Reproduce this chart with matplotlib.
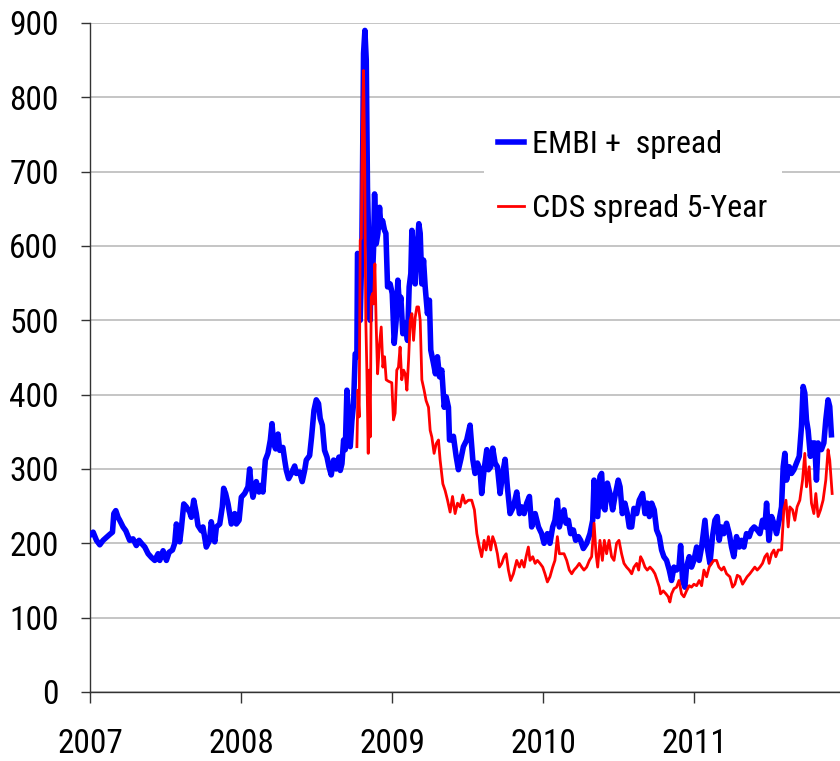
import matplotlib
matplotlib.use("Agg")

import matplotlib.pyplot as plt
from matplotlib import font_manager

# EMBI+ spread (decimal year, basis points)
embi_dates = [
    2007.000, 2007.021, 2007.043, 2007.065, 2007.087, 2007.109, 2007.131, 2007.149, 2007.158, 2007.171,
    2007.186, 2007.197, 2007.219, 2007.237, 2007.263, 2007.285, 2007.307, 2007.325, 2007.341, 2007.363,
    2007.385, 2007.407, 2007.429, 2007.451, 2007.462, 2007.484, 2007.506, 2007.524, 2007.546, 2007.561,
    2007.572, 2007.594, 2007.605, 2007.621, 2007.638, 2007.660, 2007.671, 2007.687, 2007.704, 2007.715,
    2007.737, 2007.748, 2007.770, 2007.792, 2007.803, 2007.826, 2007.837, 2007.859, 2007.876, 2007.885,
    2007.898, 2007.914, 2007.936, 2007.958, 2007.969, 2007.987, 2008.002, 2008.024, 2008.046, 2008.057,
    2008.068, 2008.079, 2008.101, 2008.119, 2008.134, 2008.145, 2008.161, 2008.178, 2008.194, 2008.205,
    2008.216, 2008.229, 2008.245, 2008.256, 2008.277, 2008.289, 2008.300, 2008.315, 2008.333, 2008.355,
    2008.366, 2008.388, 2008.405, 2008.421, 2008.432, 2008.454, 2008.467, 2008.483, 2008.498, 2008.513,
    2008.524, 2008.538, 2008.553, 2008.569, 2008.582, 2008.597, 2008.613, 2008.630, 2008.648, 2008.657,
    2008.668, 2008.679, 2008.690, 2008.701, 2008.712, 2008.723, 2008.734, 2008.745, 2008.756, 2008.767,
    2008.771, 2008.778, 2008.789, 2008.800, 2008.811, 2008.820, 2008.829, 2008.837, 2008.846, 2008.855,
    2008.862, 2008.871, 2008.877, 2008.884, 2008.895, 2008.906, 2008.917, 2008.926, 2008.937, 2008.950,
    2008.959, 2008.970, 2008.987, 2009.001, 2009.014, 2009.027, 2009.038, 2009.049, 2009.058, 2009.071,
    2009.087, 2009.102, 2009.113, 2009.124, 2009.131, 2009.142, 2009.153, 2009.164, 2009.177, 2009.186,
    2009.197, 2009.208, 2009.219, 2009.234, 2009.247, 2009.256, 2009.274, 2009.287, 2009.300, 2009.314,
    2009.329, 2009.345, 2009.358, 2009.373, 2009.380, 2009.395, 2009.406, 2009.424, 2009.439, 2009.455,
    2009.472, 2009.494, 2009.516, 2009.534, 2009.549, 2009.565, 2009.582, 2009.593, 2009.609, 2009.627,
    2009.638, 2009.653, 2009.666, 2009.682, 2009.697, 2009.715, 2009.732, 2009.748, 2009.763, 2009.781,
    2009.803, 2009.825, 2009.843, 2009.858, 2009.874, 2009.891, 2009.909, 2009.924, 2009.947, 2009.969,
    2009.990, 2010.006, 2010.028, 2010.045, 2010.063, 2010.078, 2010.094, 2010.107, 2010.123, 2010.138,
    2010.151, 2010.167, 2010.182, 2010.200, 2010.215, 2010.233, 2010.248, 2010.266, 2010.288, 2010.310,
    2010.328, 2010.337, 2010.350, 2010.361, 2010.376, 2010.387, 2010.398, 2010.409, 2010.425, 2010.442,
    2010.460, 2010.475, 2010.497, 2010.509, 2010.524, 2010.541, 2010.557, 2010.570, 2010.586, 2010.601,
    2010.619, 2010.636, 2010.658, 2010.674, 2010.689, 2010.703, 2010.718, 2010.735, 2010.751, 2010.769,
    2010.784, 2010.799, 2010.817, 2010.835, 2010.850, 2010.866, 2010.883, 2010.899, 2010.910, 2010.923,
    2010.938, 2010.949, 2010.967, 2010.982, 2010.998, 2011.016, 2011.033, 2011.049, 2011.071, 2011.086,
    2011.104, 2011.121, 2011.137, 2011.152, 2011.165, 2011.181, 2011.196, 2011.214, 2011.232, 2011.247,
    2011.262, 2011.280, 2011.298, 2011.313, 2011.329, 2011.346, 2011.364, 2011.379, 2011.397, 2011.417,
    2011.435, 2011.452, 2011.468, 2011.479, 2011.494, 2011.512, 2011.527, 2011.545, 2011.562, 2011.578,
    2011.589, 2011.600, 2011.611, 2011.629, 2011.644, 2011.660, 2011.677, 2011.695, 2011.710, 2011.721,
    2011.732, 2011.743, 2011.754, 2011.769, 2011.783, 2011.798, 2011.809, 2011.820, 2011.842, 2011.858,
    2011.871, 2011.886, 2011.897, 2011.908,
]
embi_values = [
    211, 215, 204, 198, 204, 208, 212, 215, 240, 244,
    235, 231, 222, 217, 204, 206, 197, 204, 200, 195,
    186, 181, 177, 186, 177, 190, 177, 188, 191, 200,
    226, 202, 220, 253, 249, 242, 235, 258, 240, 224,
    217, 222, 195, 204, 229, 202, 222, 226, 249, 274,
    267, 253, 226, 240, 226, 231, 262, 267, 276, 300,
    276, 262, 283, 269, 278, 269, 312, 321, 339, 361,
    334, 327, 347, 325, 329, 312, 298, 287, 294, 304,
    294, 296, 283, 298, 312, 318, 343, 379, 393, 388,
    368, 359, 325, 316, 303, 292, 312, 300, 316, 298,
    307, 339, 326, 406, 370, 330, 365, 388, 455, 451,
    590, 587, 500, 599, 859, 890, 850, 679, 599, 500,
    594, 563, 594, 670, 603, 617, 652, 626, 634, 621,
    617, 545, 549, 536, 469, 500, 554, 518, 531, 482,
    496, 473, 545, 563, 621, 590, 549, 590, 630, 617,
    549, 581, 545, 509, 527, 460, 442, 428, 451, 424,
    433, 383, 397, 383, 339, 339, 344, 317, 299, 313,
    330, 339, 359, 313, 294, 308, 299, 267, 299, 326,
    299, 303, 328, 308, 303, 267, 294, 313, 276, 240,
    249, 269, 240, 249, 240, 254, 263, 222, 240, 222,
    213, 200, 213, 200, 222, 231, 258, 222, 236, 245,
    227, 231, 213, 218, 204, 209, 204, 193, 200, 213,
    231, 285, 258, 236, 290, 294, 249, 245, 281, 267,
    245, 263, 285, 276, 240, 254, 240, 222, 222, 247,
    240, 258, 267, 240, 254, 236, 254, 245, 218, 209,
    191, 182, 177, 164, 150, 168, 164, 168, 197, 150,
    141, 168, 182, 168, 177, 195, 177, 195, 231, 195,
    173, 209, 231, 236, 204, 222, 213, 227, 213, 195,
    182, 209, 195, 204, 195, 213, 209, 218, 222, 218,
    213, 231, 222, 254, 204, 236, 227, 213, 231, 249,
    303, 321, 285, 303, 294, 299, 308, 317, 357, 411,
    402, 366, 352, 317, 335, 335, 285, 335, 326, 335,
    366, 393, 384, 346,
]

# CDS spread 5-Year (decimal year, basis points)
cds_dates = [
    2008.767, 2008.774, 2008.782, 2008.789, 2008.796, 2008.804, 2008.811, 2008.818, 2008.826, 2008.833,
    2008.842, 2008.848, 2008.855, 2008.862, 2008.871, 2008.877, 2008.886, 2008.895, 2008.904, 2008.915,
    2008.928, 2008.939, 2008.950, 2008.961, 2008.976, 2008.998, 2009.009, 2009.020, 2009.031, 2009.042,
    2009.053, 2009.064, 2009.076, 2009.087, 2009.098, 2009.109, 2009.120, 2009.131, 2009.142, 2009.153,
    2009.164, 2009.175, 2009.186, 2009.197, 2009.212, 2009.225, 2009.241, 2009.252, 2009.263, 2009.278,
    2009.292, 2009.307, 2009.318, 2009.336, 2009.351, 2009.367, 2009.384, 2009.400, 2009.417, 2009.433,
    2009.450, 2009.468, 2009.483, 2009.505, 2009.527, 2009.545, 2009.561, 2009.578, 2009.593, 2009.609,
    2009.622, 2009.638, 2009.653, 2009.666, 2009.682, 2009.697, 2009.710, 2009.726, 2009.741, 2009.755,
    2009.770, 2009.785, 2009.803, 2009.825, 2009.843, 2009.858, 2009.874, 2009.887, 2009.902, 2009.913,
    2009.931, 2009.947, 2009.962, 2009.979, 2009.997, 2010.012, 2010.028, 2010.045, 2010.063, 2010.078,
    2010.094, 2010.107, 2010.123, 2010.138, 2010.156, 2010.173, 2010.189, 2010.204, 2010.222, 2010.239,
    2010.255, 2010.270, 2010.288, 2010.306, 2010.321, 2010.337, 2010.350, 2010.361, 2010.376, 2010.392,
    2010.405, 2010.420, 2010.436, 2010.453, 2010.469, 2010.486, 2010.502, 2010.519, 2010.535, 2010.552,
    2010.570, 2010.586, 2010.601, 2010.619, 2010.632, 2010.645, 2010.658, 2010.674, 2010.689, 2010.707,
    2010.725, 2010.740, 2010.755, 2010.769, 2010.777, 2010.795, 2010.813, 2010.828, 2010.839, 2010.850,
    2010.866, 2010.883, 2010.899, 2010.916, 2010.932, 2010.949, 2010.967, 2010.982, 2010.998, 2011.016,
    2011.033, 2011.049, 2011.064, 2011.082, 2011.099, 2011.115, 2011.130, 2011.148, 2011.163, 2011.181,
    2011.196, 2011.214, 2011.236, 2011.254, 2011.269, 2011.285, 2011.302, 2011.320, 2011.335, 2011.350,
    2011.368, 2011.386, 2011.401, 2011.417, 2011.435, 2011.452, 2011.468, 2011.483, 2011.496, 2011.512,
    2011.527, 2011.540, 2011.556, 2011.578, 2011.593, 2011.607, 2011.622, 2011.633, 2011.651, 2011.666,
    2011.681, 2011.699, 2011.717, 2011.732, 2011.743, 2011.761, 2011.776, 2011.792, 2011.805, 2011.820,
    2011.836, 2011.853, 2011.871, 2011.886, 2011.897, 2011.913,
]
cds_values = [
    330, 406, 370, 608, 610, 769, 836, 725, 500, 433,
    321, 433, 343, 531, 536, 522, 576, 491, 428, 464,
    491, 437, 451, 420, 418, 416, 366, 375, 433, 437,
    464, 420, 433, 428, 406, 446, 500, 509, 473, 504,
    518, 518, 500, 420, 406, 392, 383, 352, 343, 321,
    334, 339, 312, 280, 271, 258, 242, 263, 240, 254,
    249, 265, 254, 258, 258, 245, 213, 195, 182, 204,
    191, 209, 191, 209, 200, 186, 168, 173, 182, 186,
    164, 150, 159, 177, 168, 177, 168, 182, 195, 177,
    182, 173, 177, 173, 168, 159, 148, 155, 168, 177,
    209, 186, 186, 186, 177, 164, 159, 164, 168, 173,
    168, 164, 168, 177, 182, 227, 186, 168, 204, 177,
    204, 186, 204, 182, 177, 200, 204, 186, 173, 168,
    164, 159, 168, 173, 164, 182, 177, 168, 164, 168,
    164, 159, 150, 141, 132, 136, 132, 128, 121, 132,
    139, 141, 150, 132, 128, 136, 143, 141, 145, 143,
    150, 143, 164, 155, 168, 173, 177, 177, 168, 164,
    168, 159, 155, 141, 145, 157, 155, 145, 150, 155,
    159, 164, 168, 164, 168, 173, 182, 186, 173, 186,
    191, 182, 191, 191, 245, 258, 222, 249, 245, 231,
    249, 258, 285, 321, 276, 303, 254, 240, 267, 236,
    245, 258, 285, 326, 312, 267,
]

year_ticks = [2007, 2008, 2009, 2010, 2011]
value_ticks = [0, 100, 200, 300, 400, 500, 600, 700, 800, 900]


def pick_font():
    """Prefer a narrow Arial-like face; fall back to Liberation Sans."""
    fonts = font_manager.fontManager.ttflist
    names = {f.name for f in fonts}
    for cand in ("Liberation Sans Narrow", "Arial Narrow", "Roboto Condensed"):
        if cand in names:
            return cand, "normal"
    for f in fonts:
        if f.name == "Roboto" and "condensed" in str(f.stretch):
            return "Roboto", "condensed"
    return "Liberation Sans", "normal"


base_font, stretch = pick_font()
plt.rcParams["font.family"] = [base_font, "DejaVu Sans"]
plt.rcParams["font.stretch"] = stretch

fig = plt.figure(figsize=(8.4, 7.61), dpi=100)
ax = fig.add_axes([0.1071, 0.0907, 0.8929, 0.8791])

ax.plot(embi_dates, embi_values, color="#0000ff", linewidth=4.0, label="EMBI +  spread",
        solid_joinstyle="round", zorder=3)
ax.plot(cds_dates, cds_values, color="#ff0000", linewidth=2.0, label="CDS spread 5-Year",
        solid_joinstyle="round", zorder=4)

ax.set_xlim(2007, 2011.965)
ax.set_ylim(0, 900)
ax.set_xticks(year_ticks)
ax.set_xticklabels([str(y) for y in year_ticks])
ax.set_yticks(value_ticks)

ax.grid(axis="y", color="#c0c0c0", linewidth=1.3, zorder=0)
ax.set_axisbelow(True)

for side in ("top", "right"):
    ax.spines[side].set_visible(False)
for side in ("left", "bottom"):
    ax.spines[side].set_color("#333333")
    ax.spines[side].set_linewidth(1.0)

ax.tick_params(axis="x", direction="out", length=8, width=1.0, color="#333333",
               labelsize=24, pad=18)
ax.tick_params(axis="y", direction="out", length=6.5, width=1.0, color="#333333",
               labelsize=24, pad=16)

leg = ax.legend(loc="upper left", bbox_to_anchor=(0.576, 0.848), bbox_transform=fig.transFigure,
                fontsize=23, frameon=True, facecolor="white", edgecolor="none", framealpha=1.0,
                fancybox=False, borderpad=0.45, borderaxespad=0, handlelength=0.8,
                handletextpad=0.25, labelspacing=1.1)
leg.set_zorder(5)

fig.savefig("out.png", dpi=100)
